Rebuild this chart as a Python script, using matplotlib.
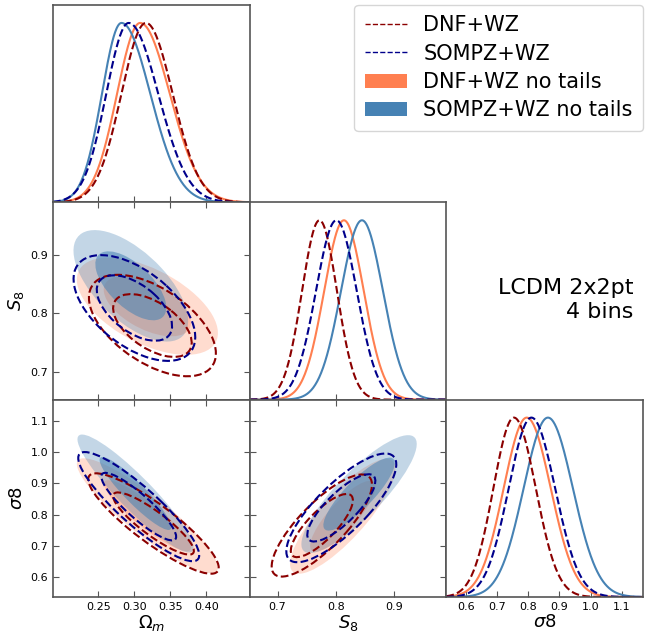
import numpy as np
import matplotlib
matplotlib.use('Agg')
import matplotlib.pyplot as plt
from matplotlib.patches import Ellipse, Patch
from matplotlib.lines import Line2D

# chains, in legend order
NAMES  = ['DNF+WZ', 'SOMPZ+WZ', 'DNF+WZ no tails', 'SOMPZ+WZ no tails']
COLORS = ['darkred', 'darkblue', '#ff7f50', '#4682b4']
FILLED = [False, False, True, True]

# 1D marginals: peak, left width, right width
OM_PEAK = [0.316, 0.292, 0.308, 0.282]
OM_SL   = [0.034, 0.031, 0.032, 0.027]
OM_SR   = [0.037, 0.041, 0.041, 0.040]
S8_PEAK = [0.772, 0.801, 0.814, 0.845]
S8_SL   = [0.030, 0.035, 0.034, 0.036]
S8_SR   = [0.030, 0.035, 0.034, 0.036]
SIG8_PEAK = [0.754, 0.810, 0.795, 0.863]
SIG8_SL   = [0.066, 0.073, 0.074, 0.078]
SIG8_SR   = [0.070, 0.076, 0.077, 0.080]

# 2D contours per chain: centre x, centre y, sigma x, sigma y, correlation
OM_S8 = [[0.325, 0.779, 0.036, 0.0355, -0.55],
         [0.300, 0.809, 0.0345, 0.037, -0.55],
         [0.318, 0.812, 0.040, 0.034, -0.55],
         [0.295, 0.847, 0.0325, 0.039, -0.63]]
OM_SIG8 = [[0.3265, 0.772, 0.037, 0.0656, -0.88],
           [0.306, 0.826, 0.0343, 0.0713, -0.89],
           [0.318, 0.797, 0.040, 0.075, -0.90],
           [0.3015, 0.868, 0.0329, 0.077, -0.92]]
S8_SIG8 = [[0.776, 0.7655, 0.0352, 0.0667, 0.80],
           [0.8095, 0.822, 0.0386, 0.071, 0.80],
           [0.812, 0.795, 0.037, 0.075, 0.83],
           [0.840, 0.866, 0.0405, 0.077, 0.85]]

LABELS = [r'$\Omega_m$', r'$S_8$', r'$\sigma8$']
LIMS   = [(0.187, 0.46), (0.652, 0.99), (0.537, 1.168)]
TICKS  = [[0.25, 0.30, 0.35, 0.40], [0.7, 0.8, 0.9],
          [0.6, 0.7, 0.8, 0.9, 1.0, 1.1]]
TICKLABELS = [['0.25', '0.30', '0.35', '0.40'], ['0.7', '0.8', '0.9'],
              ['0.6', '0.7', '0.8', '0.9', '1.0', '1.1']]

PEAKS = [OM_PEAK, S8_PEAK, SIG8_PEAK]
SLS   = [OM_SL, S8_SL, SIG8_SL]
SRS   = [OM_SR, S8_SR, SIG8_SR]
PAIRS = {(1, 0): OM_S8, (2, 0): OM_SIG8, (2, 1): S8_SIG8}

R68, R95 = 1.515, 2.448
SPINE = '#555555'


def add_ellipse(ax, p, r, **kw):
    cx, cy, sx, sy, rho = p
    cov = np.array([[sx*sx, rho*sx*sy], [rho*sx*sy, sy*sy]])
    vals, vecs = np.linalg.eigh(cov)
    ang = np.degrees(np.arctan2(vecs[1, 1], vecs[0, 1]))
    ax.add_patch(Ellipse((cx, cy), 2*r*np.sqrt(vals[1]), 2*r*np.sqrt(vals[0]),
                         angle=ang, **kw))


fig = plt.figure(figsize=(6.6, 6.33), dpi=100)
gs = fig.add_gridspec(3, 3, left=53/660, right=643/660, bottom=1-597/633,
                      top=1-5/633, hspace=0, wspace=0)

order = [2, 3, 0, 1]  # filled first, dashed on top
for i in range(3):
    for j in range(i + 1):
        ax = fig.add_subplot(gs[i, j])
        for s in ax.spines.values():
            s.set_color(SPINE)
            s.set_linewidth(1.2)
        ax.set_xlim(LIMS[j])
        ax.set_xticks(TICKS[j])
        ax.set_xticklabels(TICKLABELS[j])
        if i == j:
            x = np.linspace(LIMS[j][0], LIMS[j][1], 400)
            for k in order:
                pk, sl, sr = PEAKS[j][k], SLS[j][k], SRS[j][k]
                s = np.where(x < pk, sl, sr)
                y = np.exp(-0.5 * ((x - pk) / s) ** 2)
                ax.plot(x, y, color=COLORS[k], lw=1.5,
                        ls='-' if FILLED[k] else '--')
            ax.set_ylim(0, 1.1)
            ax.set_yticks([])
            ax.tick_params(axis='x', direction='in', length=4, color=SPINE,
                           labelsize=8, labelbottom=(i == 2))
        else:
            ax.set_ylim(LIMS[i])
            ax.set_yticks(TICKS[i])
            ax.set_yticklabels(TICKLABELS[i])
            data = PAIRS[(i, j)]
            for k in order:
                if FILLED[k]:
                    a_out, a_in = (0.27, 0.3) if k == 2 else (0.32, 0.55)
                    add_ellipse(ax, data[k], R95, facecolor=COLORS[k],
                                edgecolor='none', alpha=a_out)
                    add_ellipse(ax, data[k], R68, facecolor=COLORS[k],
                                edgecolor='none', alpha=a_in)
                else:
                    for r in (R95, R68):
                        add_ellipse(ax, data[k], r, facecolor='none',
                                    edgecolor=COLORS[k], lw=1.5, ls='--')
            ax.tick_params(direction='in', length=4, color=SPINE, top=True,
                           right=True, labelsize=8, labelbottom=(i == 2),
                           labelleft=(j == 0))
        if i == 2:
            ax.set_xlabel(LABELS[j], fontsize=13, labelpad=1)
        if j == 0 and i > 0:
            ax.set_ylabel(LABELS[i], fontsize=13, labelpad=3)

handles = [Line2D([], [], color=COLORS[0], ls='--', lw=1),
           Line2D([], [], color=COLORS[1], ls='--', lw=1),
           Patch(facecolor=COLORS[2]), Patch(facecolor=COLORS[3])]
fig.legend(handles, NAMES, loc='upper right', fontsize=15,
           bbox_to_anchor=(643/660, 1-5/633), labelspacing=0.4,
           handlelength=2.0, borderpad=0.5, borderaxespad=0)

fig.text(633/660, 1-300/633, 'LCDM 2x2pt\n4 bins', ha='right', va='center',
         fontsize=16, multialignment='right')

fig.savefig('out.png', dpi=100)
